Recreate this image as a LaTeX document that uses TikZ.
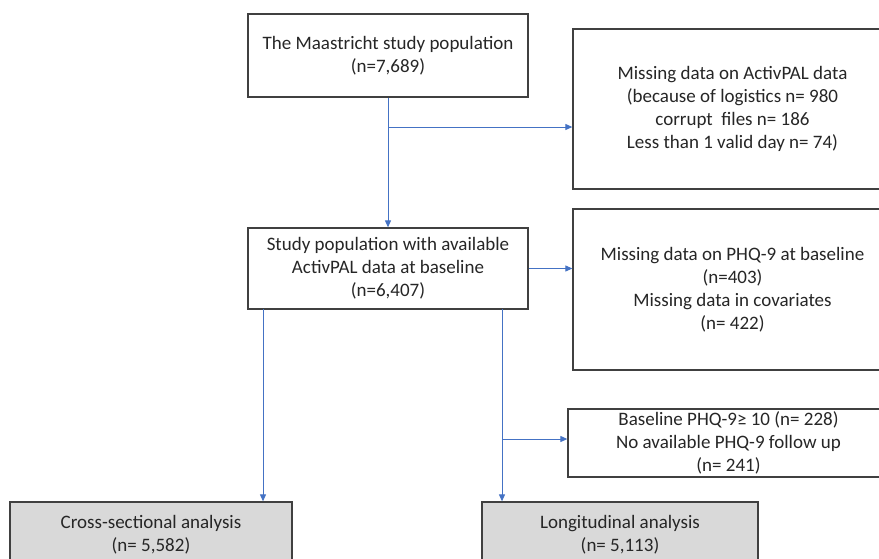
\documentclass[tikz,border=0pt]{standalone}
\usepackage{fontspec}
\setmainfont{Carlito}
\usetikzlibrary{arrows.meta, positioning}
\usepackage{xcolor}
\definecolor{boxline}{RGB}{64, 64, 64}
\definecolor{textdark}{RGB}{38, 38, 38}
\definecolor{arrowblue}{RGB}{68, 114, 196}
\definecolor{outgray}{RGB}{217, 217, 217}

\begin{document}
\begin{tikzpicture}[
    x=1pt, y=-1pt,
    flowbox/.style={rectangle, draw=boxline, fill=white, line width=1.3pt, align=center, inner sep=0pt, text=textdark, font=\fontsize{19}{23}\selectfont},
    outbox/.style={flowbox, fill=outgray},
    arrow/.style={-{Triangle[length=7pt, width=6pt]}, line width=1pt, color=arrowblue},
]
\clip (0,0) rectangle (879,558);
\fill[white] (0,0) rectangle (879,558);

% Main stream
\node[flowbox, minimum width=280pt, minimum height=83pt] (top) at (388, 55.5) {The Maastricht study population\\(n=7,689)};
\node[flowbox, minimum width=280pt, minimum height=81pt] (avail) at (388, 268.5) {Study population with available\\ActivPAL data at baseline\\(n=6,407)};

% Exclusions
\node[flowbox, minimum width=319pt, minimum height=160pt] (missact) at (732.5, 109) {Missing data on ActivPAL data\\(because of logistics n= 980\\corrupt\ \ files n= 186\\Less than 1 valid day n= 74)};
\node[flowbox, minimum width=319pt, minimum height=161pt] (missphq) at (732.5, 289.5) {Missing data on PHQ-9 at baseline\\(n=403)\\Missing data in covariates\\(n= 422)};
\node[flowbox, minimum width=321pt, minimum height=68pt] (excl) at (728.5, 443) {Baseline PHQ-9≥ 10 (n= 228)\\No available PHQ-9 follow up\\(n= 241)};

% Analyses
\node[outbox, minimum width=282pt, minimum height=66pt] (cross) at (151, 535) {Cross-sectional analysis\\(n= 5,582)};
\node[outbox, minimum width=276pt, minimum height=66pt] (longi) at (620, 535) {Longitudinal analysis\\(n= 5,113)};

% Branch points
\coordinate (split1) at (388, 127);
\coordinate (split2) at (502, 439);
\coordinate (dropL) at (263, 309);
\coordinate (dropR) at (502, 309);

% Arrows
\draw[arrow] (top) -- (avail);
\draw[arrow] (split1) -- (split1 -| missact.west);
\draw[arrow] (avail.east) -- (avail.east -| missphq.west);
\draw[arrow] (dropL) -- (dropL |- cross.north);
\draw[arrow] (dropR) -- (dropR |- longi.north);
\draw[arrow] (split2) -- (split2 -| excl.west);

\end{tikzpicture}
\end{document}
